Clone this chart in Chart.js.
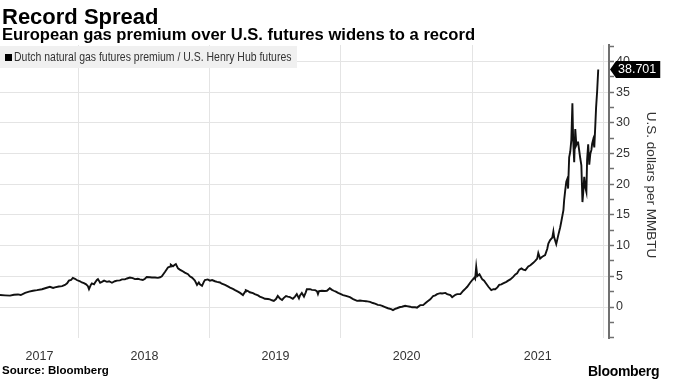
<!DOCTYPE html>
<html><head><meta charset="utf-8">
<script src="https://cdn.jsdelivr.net/npm/chart.js@4.4.1/dist/chart.umd.min.js"></script>
<style>
html,body{margin:0;padding:0;background:#fff;}
#wrap{position:relative;width:674px;height:379px;overflow:hidden;font-family:"Liberation Sans",Arial,sans-serif;color:#000;}
#c{position:absolute;left:0;top:0;}
.t{position:absolute;white-space:nowrap;line-height:1;}
#legend{position:absolute;left:0;top:46px;width:297px;height:22px;background:#f0f0f0;}
#legend .sq{position:absolute;left:5px;top:8px;width:7px;height:7px;background:#000;}
#legend .lt{position:absolute;left:14px;top:0;line-height:22px;font-size:13px;color:#333;white-space:nowrap;transform:scaleX(0.805);transform-origin:0 50%;}
</style></head><body>
<div id="wrap">
<canvas id="c" width="674" height="379"></canvas>
<div class="t" style="left:2px;top:6px;font-size:22px;font-weight:bold;">Record Spread</div>
<div class="t" style="left:2px;top:27px;font-size:16.6px;font-weight:bold;">European gas premium over U.S. futures widens to a record</div>
<div id="legend"><div class="sq"></div><div class="lt">Dutch natural gas futures premium / U.S. Henry Hub futures</div></div>
<div class="t" style="left:2px;top:365px;font-size:11.5px;font-weight:bold;">Source: Bloomberg</div>
<div class="t" style="left:588px;top:364px;font-size:14px;font-weight:bold;letter-spacing:-0.3px;">Bloomberg</div>
</div>
<script>
const dates = [
'2017-05-26','2017-06-09','2017-06-23','2017-07-04','2017-07-15','2017-07-23','2017-08-04','2017-08-15','2017-08-26','2017-09-06','2017-09-20','2017-10-01','2017-10-12','2017-10-21','2017-10-26','2017-11-06','2017-11-15','2017-11-23','2017-11-29','2017-12-04','2017-12-10','2017-12-15','2017-12-21','2017-12-26',
'2018-01-04','2018-01-09','2018-01-15','2018-01-21','2018-01-26','2018-01-29','2018-02-03','2018-02-06','2018-02-12','2018-02-15','2018-02-20','2018-02-23','2018-03-01','2018-03-06','2018-03-12','2018-03-20','2018-03-26','2018-04-03','2018-04-11','2018-04-17','2018-04-25','2018-05-01','2018-05-09','2018-05-15','2018-05-23','2018-05-31','2018-06-06','2018-06-14','2018-06-20','2018-06-28','2018-07-04','2018-07-09','2018-07-18','2018-07-23','2018-08-01','2018-08-09','2018-08-15','2018-08-20','2018-08-29','2018-09-06','2018-09-12','2018-09-14','2018-09-20','2018-09-25','2018-09-28','2018-10-04','2018-10-09','2018-10-15','2018-10-23','2018-11-01','2018-11-06','2018-11-12','2018-11-17','2018-11-20','2018-11-26','2018-12-01','2018-12-04','2018-12-10','2018-12-15','2018-12-18','2018-12-26',
'2019-01-01','2019-01-07','2019-01-15','2019-01-21','2019-01-29','2019-02-03','2019-02-12','2019-02-20','2019-02-26','2019-03-06','2019-03-12','2019-03-20','2019-03-26','2019-04-03','2019-04-09','2019-04-11','2019-04-17','2019-04-22','2019-05-01','2019-05-06','2019-05-15','2019-05-20','2019-05-29','2019-06-03','2019-06-12','2019-06-17','2019-06-23','2019-06-28','2019-07-04','2019-07-09','2019-07-15','2019-07-21','2019-07-26','2019-08-01','2019-08-06','2019-08-12','2019-08-20','2019-08-26','2019-08-31','2019-09-06','2019-09-09','2019-09-14','2019-09-20','2019-09-25','2019-09-28','2019-10-07','2019-10-12','2019-10-21','2019-10-26','2019-10-29','2019-11-01','2019-11-09','2019-11-17','2019-11-23','2019-12-01','2019-12-07','2019-12-12','2019-12-18','2019-12-24',
'2020-01-01','2020-01-07','2020-01-15','2020-01-26','2020-02-04','2020-02-15','2020-02-23','2020-03-02','2020-03-11','2020-03-22','2020-03-30','2020-04-05','2020-04-13','2020-04-19','2020-04-25','2020-05-03','2020-05-11','2020-05-20','2020-05-25','2020-05-31','2020-06-05','2020-06-14','2020-06-19','2020-06-28','2020-07-03','2020-07-12','2020-07-17','2020-07-26','2020-07-31','2020-08-09','2020-08-17','2020-08-23','2020-08-28','2020-09-06','2020-09-14','2020-09-20','2020-09-25','2020-10-04','2020-10-09','2020-10-18','2020-10-23','2020-11-01','2020-11-06','2020-11-15','2020-11-20','2020-11-29','2020-12-07','2020-12-13','2020-12-18','2020-12-26',
'2021-01-01','2021-01-07','2021-01-09','2021-01-12','2021-01-15','2021-01-21','2021-01-26','2021-01-29','2021-02-03','2021-02-09','2021-02-15','2021-02-23','2021-03-01','2021-03-06','2021-03-12','2021-03-17','2021-03-23','2021-03-28','2021-04-06','2021-04-11','2021-04-17','2021-04-25','2021-05-01','2021-05-06','2021-05-12','2021-05-18','2021-05-23','2021-05-29','2021-06-06','2021-06-12','2021-06-20','2021-06-26','2021-07-01','2021-07-04','2021-07-09','2021-07-15','2021-07-23','2021-07-29','2021-08-01','2021-08-06','2021-08-12','2021-08-15','2021-08-17','2021-08-23','2021-08-29','2021-09-03','2021-09-06','2021-09-12','2021-09-14','2021-09-17','2021-09-20','2021-09-23','2021-09-25','2021-09-28','2021-10-01','2021-10-04','2021-10-07','2021-10-09','2021-10-12','2021-10-15','2021-10-18','2021-10-21','2021-10-23','2021-10-29','2021-11-01','2021-11-04','2021-11-06','2021-11-09','2021-11-12','2021-11-15','2021-11-17','2021-11-20','2021-11-23','2021-11-26','2021-11-29','2021-12-01','2021-12-04','2021-12-07','2021-12-10','2021-12-12','2021-12-15','2021-12-18'
];
const premium = [
1.95,1.9,1.85,2.0,2.05,1.95,2.3,2.5,2.65,2.75,2.9,3.1,3.3,3.1,3.2,3.35,3.4,3.6,3.85,4.3,4.4,4.75,4.6,4.4,
4.2,4.0,3.9,3.7,3.4,2.9,3.6,3.85,3.7,4.0,4.4,4.55,3.95,4.1,4.3,4.1,4.2,3.95,4.2,4.3,4.35,4.5,4.5,4.65,4.8,4.7,4.55,4.6,4.5,4.4,4.6,4.9,4.85,4.8,4.8,4.75,4.85,5.0,5.75,6.45,6.6,6.9,6.65,6.9,7.0,6.3,6.1,5.9,5.6,5.35,5.0,4.8,4.5,4.3,3.6,4.0,3.7,3.45,4.1,4.4,4.5,
4.3,4.4,4.2,4.1,4.0,3.8,3.6,3.35,3.15,2.95,2.75,2.5,2.3,1.95,2.5,2.75,2.6,2.4,2.25,2.1,1.9,1.7,1.5,1.35,1.3,1.25,1.1,1.0,1.3,1.8,1.4,1.15,1.5,1.8,1.7,1.6,1.35,1.7,2.1,1.4,1.9,2.3,1.7,2.4,2.9,2.9,2.8,2.75,2.6,2.1,2.6,2.65,2.6,2.65,3.05,2.8,2.65,2.5,2.3,
2.1,1.95,1.8,1.6,1.3,1.0,1.05,1.0,0.95,0.85,0.65,0.55,0.35,0.3,0.2,0.0,-0.2,-0.35,-0.5,-0.3,-0.2,0.0,0.05,0.2,0.15,0.05,-0.05,-0.05,-0.1,0.3,0.3,0.6,0.85,1.25,1.8,1.9,2.1,2.25,2.2,2.3,2.1,1.95,1.6,2.0,2.1,2.1,2.65,3.0,3.3,3.95,
4.4,4.8,4.6,6.55,5.05,5.35,4.8,4.5,4.3,3.8,3.3,2.75,2.9,2.9,3.2,3.6,3.7,3.85,4.1,4.3,4.5,4.9,5.3,5.5,6.1,6.3,6.1,6.0,6.6,6.8,7.2,7.55,7.9,8.8,7.9,8.2,8.45,9.5,10.35,10.9,11.3,12.3,11.4,10.25,11.8,13.0,13.9,15.8,17.4,19.0,20.4,20.9,19.3,24.4,25.3,27.2,33.2,27.5,23.6,29.0,26.4,26.8,26.8,24.2,23.1,17.1,18.5,21.2,19.5,18.75,24.0,26.5,23.2,25.0,25.6,26.6,27.3,26.0,29.8,32.5,35.2,38.701
];
const yearLabels = ['2017','2018','2019','2020','2021'];
const yTickValues = [-5,-2.5,0,2.5,5,7.5,10,12.5,15,17.5,20,22.5,25,27.5,30,32.5,35,37.5,40,42.5];
const yLabelValues = [0,5,10,15,20,25,30,35,40];
const seriesName = 'Dutch natural gas futures premium / U.S. Henry Hub futures';
const yTitle = 'U.S. dollars per MMBTU';

const toMs = s => Date.parse(s + 'T00:00:00Z');
const xMin = toMs(dates[0]);
const xMax = Date.UTC(2022, 0, 17);
const yMin = -5.05, yMax = 42.7;

const boundaries = [];
const labelAt = new Map();
yearLabels.forEach(y => {
  const yr = parseInt(y, 10);
  const a = Math.max(xMin, Date.UTC(yr, 0, 1));
  const b = Math.min(xMax, Date.UTC(yr + 1, 0, 1));
  labelAt.set((a + b) / 2, y);
  if (Date.UTC(yr + 1, 0, 1) <= xMax) boundaries.push(Date.UTC(yr + 1, 0, 1));
});
const xTicks = [...boundaries, ...labelAt.keys()].sort((a, b) => a - b);
const boundarySet = new Set(boundaries);
const ySetLabels = new Set(yLabelValues);

const REG = '"Liberation Sans",Arial,sans-serif';

const extras = {
  id: 'extras',
  afterDraw(chart) {
    const ctx = chart.ctx, ys = chart.scales.y;
    ctx.save();
    ctx.translate(651, 185);
    ctx.rotate(Math.PI / 2);
    ctx.font = '13.5px ' + REG;
    ctx.fillStyle = '#333';
    ctx.textAlign = 'center';
    ctx.textBaseline = 'middle';
    ctx.fillText(yTitle, 0, 0);
    ctx.restore();
    const v = premium[premium.length - 1];
    const y = ys.getPixelForValue(v);
    const x0 = ys.left + 1;
    ctx.save();
    ctx.font = '12.5px ' + REG;
    const text = v.toFixed(3);
    const w = ctx.measureText(text).width;
    ctx.fillStyle = '#000';
    ctx.beginPath();
    ctx.moveTo(x0, y);
    ctx.lineTo(x0 + 6, y - 8.5);
    ctx.lineTo(x0 + 12 + w, y - 8.5);
    ctx.lineTo(x0 + 12 + w, y + 8.5);
    ctx.lineTo(x0 + 6, y + 8.5);
    ctx.closePath();
    ctx.fill();
    ctx.fillStyle = '#fff';
    ctx.textBaseline = 'middle';
    ctx.textAlign = 'left';
    ctx.fillText(text, x0 + 8, y + 0.5);
    ctx.restore();
  }
};

new Chart(document.getElementById('c'), {
  type: 'line',
  data: {
    datasets: [{
      label: seriesName,
      data: dates.map((d, i) => ({x: toMs(d), y: premium[i]})),
      borderColor: '#111',
      borderWidth: 1.9,
      pointRadius: 0,
      tension: 0,
      fill: false
    }]
  },
  options: {
    responsive: false,
    animation: false,
    devicePixelRatio: 1,
    layout: {padding: {top: 45, left: 0, right: 0, bottom: 0}},
    plugins: {legend: {display: false}, tooltip: {enabled: false}, title: {display: false}},
    scales: {
      x: {
        type: 'linear',
        min: xMin, max: xMax,
        afterBuildTicks: s => { s.ticks = xTicks.map(v => ({value: v})); },
        afterFit: s => { s.height = 41; },
        border: {display: false},
        grid: {
          color: c => (c.tick && boundarySet.has(c.tick.value)) ? '#e4e4e4' : 'rgba(0,0,0,0)',
          lineWidth: 1,
          drawTicks: false
        },
        ticks: {
          autoSkip: false, maxRotation: 0, minRotation: 0, padding: 11,
          color: '#333', font: {family: REG, size: 12.5},
          callback: v => labelAt.get(v) || ''
        }
      },
      y: {
        type: 'linear',
        position: 'right',
        min: yMin, max: yMax,
        afterBuildTicks: s => { s.ticks = yTickValues.map(v => ({value: v})); },
        afterFit: s => { s.width = 65; },
        border: {display: true, color: '#707070', width: 2},
        grid: {
          color: c => (c.tick && ySetLabels.has(c.tick.value)) ? '#e4e4e4' : 'rgba(0,0,0,0)',
          lineWidth: 1,
          drawTicks: true,
          tickLength: 5,
          tickColor: '#707070',
          tickWidth: 1.5
        },
        ticks: {
          autoSkip: false, padding: 2,
          color: '#333', font: {family: REG, size: 12.5},
          callback: v => ySetLabels.has(v) ? String(v) : ''
        }
      }
    }
  },
  plugins: [extras]
});
</script>
</body></html>
